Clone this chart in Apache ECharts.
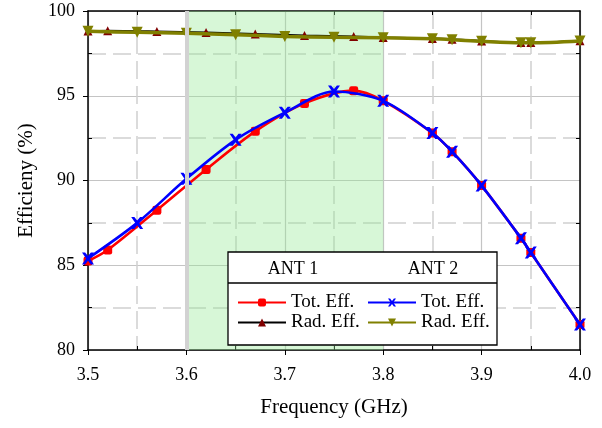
<!DOCTYPE html>
<html><head><meta charset="utf-8">
<script src="https://cdn.jsdelivr.net/npm/echarts@6/dist/echarts.min.js"></script>
<style>html,body{margin:0;padding:0;background:#fff}#c{width:602px;height:428px}</style>
</head><body><div id="c"></div>
<script>
const ant1Freq = [3.5, 3.52, 3.57, 3.62, 3.67, 3.72, 3.77, 3.8, 3.85, 3.87, 3.9, 3.94, 3.95, 4.0];
const ant1Tot  = [85.25, 85.9, 88.25, 90.65, 92.9, 94.55, 95.3, 94.7, 92.8, 91.7, 89.7, 86.6, 85.75, 81.5];
const ant1Rad  = [98.82, 98.83, 98.79, 98.73, 98.64, 98.56, 98.5, 98.44, 98.38, 98.33, 98.23, 98.14, 98.14, 98.25];
const ant2Freq = [3.5, 3.55, 3.6, 3.65, 3.7, 3.75, 3.8, 3.85, 3.87, 3.9, 3.94, 3.95, 4.0];
const ant2Tot  = [85.4, 87.5, 90.1, 92.4, 94.0, 95.25, 94.7, 92.8, 91.7, 89.7, 86.6, 85.75, 81.5];
const ant2Rad  = [98.8, 98.74, 98.68, 98.6, 98.5, 98.45, 98.42, 98.36, 98.31, 98.21, 98.12, 98.12, 98.23];
const bandRange = [3.6, 3.8];
const xTicks = [3.5, 3.6, 3.7, 3.8, 3.9, 4.0];
const yTicks = [80, 85, 90, 95, 100];
const xMinor = [3.55, 3.65, 3.75, 3.85, 3.95];
const yMinor = [82.5, 87.5, 92.5, 97.5];

const FONT = 'Liberation Serif';
const pair = (xs, ys) => xs.map((x, i) => [x, ys[i]]);
const xMark = 'path://M0,0 L2.6,0 L5,3 L7.4,0 L10,0 L6.6,5 L10,10 L7.4,10 L5,7 L2.6,10 L0,10 L3.4,5 Z';

const chart = echarts.init(document.getElementById('c'), null, {renderer: 'canvas'});
const baseX = {type: 'value', min: 3.5, max: 4.0, interval: 0.1};
const baseY = {type: 'value', min: 80, max: 100, interval: 5};
chart.setOption({
  animation: false,
  grid: {left: 88, right: 22, top: 11, bottom: 78, containLabel: false},
  xAxis: [
    Object.assign({}, baseX, {
      position: 'bottom',
      name: 'Frequency (GHz)', nameLocation: 'middle', nameGap: 47,
      nameTextStyle: {fontFamily: FONT, fontSize: 21, color: '#000'},
      axisLine: {show: true, lineStyle: {color: '#000', width: 1.5}},
      axisTick: {show: true, inside: false, length: 5, lineStyle: {color: '#000'}},
      axisLabel: {fontFamily: FONT, fontSize: 18, color: '#000', margin: 16, formatter: v => v.toFixed(1)},
      splitLine: {show: true, lineStyle: {color: '#c4c4c4', width: 1.2}},
      minorTick: {show: false, splitNumber: 2},
      minorSplitLine: {show: true, lineStyle: {color: '#cfcfcf', width: 1.5, type: [18, 7]}}
    }),
    Object.assign({}, baseX, {
      position: 'top',
      axisLine: {show: true, lineStyle: {color: '#000', width: 1.5}},
      axisTick: {show: true, inside: true, length: 4, customValues: xMinor, lineStyle: {color: '#000'}},
      axisLabel: {show: false}, splitLine: {show: false}
    }),
    Object.assign({}, baseX, {
      position: 'bottom',
      axisLine: {show: false},
      axisTick: {show: true, inside: true, length: 4, customValues: xMinor, lineStyle: {color: '#000'}},
      axisLabel: {show: false}, splitLine: {show: false}
    })
  ],
  yAxis: [
    Object.assign({}, baseY, {
      position: 'left',
      name: 'Efficieny (%)', nameLocation: 'middle', nameGap: 51,
      nameTextStyle: {fontFamily: FONT, fontSize: 21, color: '#000'},
      axisLine: {show: true, lineStyle: {color: '#000', width: 1.5}},
      axisTick: {show: true, inside: false, length: 5, lineStyle: {color: '#000'}},
      axisLabel: {fontFamily: FONT, fontSize: 18, color: '#000', margin: 13},
      splitLine: {show: true, lineStyle: {color: '#c4c4c4', width: 1.2}},
      minorTick: {show: false, splitNumber: 2},
      minorSplitLine: {show: true, lineStyle: {color: '#cfcfcf', width: 1.5, type: [18, 7]}}
    }),
    Object.assign({}, baseY, {
      position: 'right',
      axisLine: {show: true, lineStyle: {color: '#000', width: 1.5}},
      axisTick: {show: true, inside: true, length: 4, customValues: yMinor, lineStyle: {color: '#000'}},
      axisLabel: {show: false}, splitLine: {show: false}
    }),
    Object.assign({}, baseY, {
      position: 'left',
      axisLine: {show: false},
      axisTick: {show: true, inside: true, length: 4, customValues: yMinor, lineStyle: {color: '#000'}},
      axisLabel: {show: false}, splitLine: {show: false}
    })
  ],
  legend: [
    {
      data: ['ANT1|Tot. Eff.', 'ANT1|Rad. Eff.'],
      orient: 'vertical', left: 237, top: 293, itemWidth: 48, itemHeight: 10, itemGap: 1,
      formatter: n => n.split('|')[1],
      textStyle: {fontFamily: FONT, fontSize: 19, color: '#000'},
      padding: 0, z: 20
    },
    {
      data: ['ANT2|Tot. Eff.', 'ANT2|Rad. Eff.'],
      orient: 'vertical', left: 367, top: 293, itemWidth: 48, itemHeight: 10, itemGap: 1,
      formatter: n => n.split('|')[1],
      textStyle: {fontFamily: FONT, fontSize: 19, color: '#000'},
      padding: 0, z: 20
    }
  ],
  graphic: {
    elements: [
      {type: 'rect', z: 10, shape: {x: 228, y: 252, width: 269, height: 93},
       style: {fill: '#fff', stroke: '#000', lineWidth: 1.3}},
      {type: 'line', z: 11, shape: {x1: 228, y1: 283, x2: 497, y2: 283},
       style: {stroke: '#000', lineWidth: 1.3}},
      {type: 'text', z: 11, x: 293, y: 269,
       style: {text: 'ANT 1', font: '18px "Liberation Serif"', fill: '#000', align: 'center', verticalAlign: 'middle'}},
      {type: 'text', z: 11, x: 433, y: 269,
       style: {text: 'ANT 2', font: '18px "Liberation Serif"', fill: '#000', align: 'center', verticalAlign: 'middle'}}
    ]
  },
  series: [
    {
      name: 'ANT1|Tot. Eff.', type: 'line', data: pair(ant1Freq, ant1Tot), smooth: 0.3,
      symbol: 'roundRect', symbolSize: 9,
      lineStyle: {color: '#ff0000', width: 2.6}, itemStyle: {color: '#ff0000'},
      markArea: {silent: true, itemStyle: {color: 'rgba(150,235,150,0.38)'},
        data: [[{xAxis: bandRange[0]}, {xAxis: bandRange[1]}]]},
      markLine: {silent: true, symbol: 'none', label: {show: false},
        lineStyle: {color: '#d2d2d2', width: 4, type: 'solid'}, data: [{xAxis: bandRange[0]}]},
      z: 3
    },
    {
      name: 'ANT1|Rad. Eff.', type: 'line', data: pair(ant1Freq, ant1Rad), smooth: 0.3,
      symbol: 'triangle', symbolSize: 9,
      lineStyle: {color: '#000', width: 2}, itemStyle: {color: '#800000'}, z: 3
    },
    {
      name: 'ANT2|Tot. Eff.', type: 'line', data: pair(ant2Freq, ant2Tot), smooth: 0.3,
      symbol: xMark, symbolSize: 12,
      lineStyle: {color: '#0000ff', width: 2.6}, itemStyle: {color: '#0000ff'}, z: 4
    },
    {
      name: 'ANT2|Rad. Eff.', type: 'line', data: pair(ant2Freq, ant2Rad), smooth: 0.3,
      symbol: 'triangle', symbolRotate: 180, symbolSize: 11,
      lineStyle: {color: '#808000', width: 3.5}, itemStyle: {color: '#808000'}, z: 4
    }
  ]
});
</script></body></html>
